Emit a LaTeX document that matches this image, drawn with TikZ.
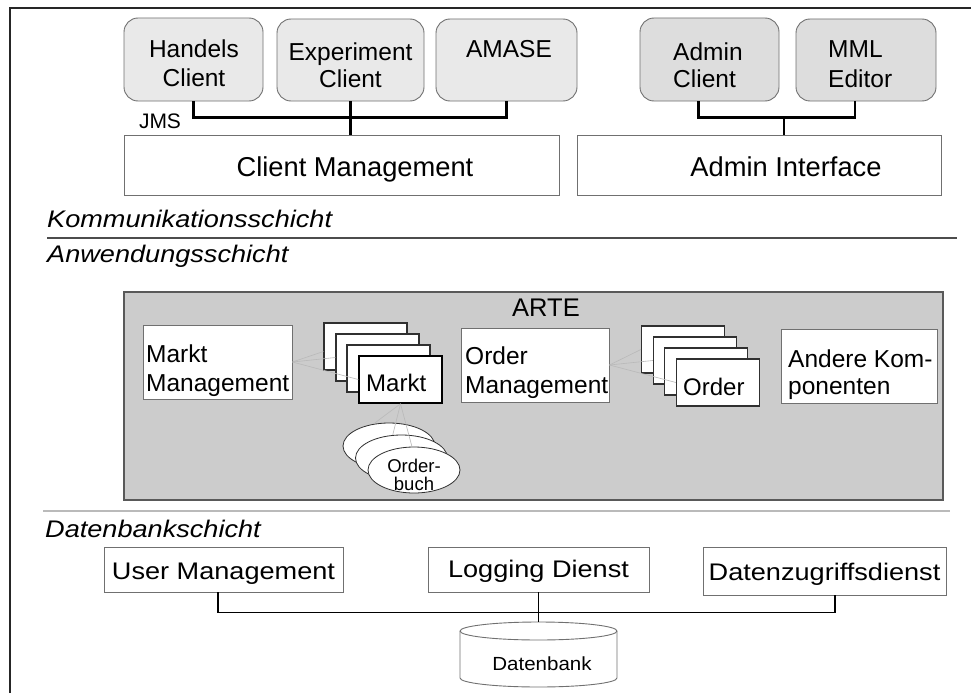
\documentclass[tikz,border=0pt]{standalone}
\usepackage{fontspec}
\setmainfont{Liberation Sans}
\usepackage{graphicx}
\usetikzlibrary{shapes.geometric}
\definecolor{cfill}{HTML}{E9E9E9}
\definecolor{afill}{HTML}{DDDDDD}
\definecolor{artefill}{HTML}{CCCCCC}
\definecolor{bord}{HTML}{707070}
\definecolor{stackbord}{HTML}{303030}
\newcommand{\hstretch}[1]{\scalebox{1.13}[1]{#1}}
\tikzset{
  fs/.style 2 args={font=\fontsize{#1}{#2}\selectfont},
  cbox/.style={draw=bord, line width=0.9pt, rounded corners=14pt, inner sep=0pt},
  wbox/.style={draw=bord, fill=white, line width=0.9pt, inner sep=0pt},
  stackbox/.style={draw=stackbord, fill=white, line width=1.2pt, inner sep=0pt, minimum width=83pt, minimum height=47pt},
  obuch/.style={ellipse, draw=stackbord, fill=white, line width=0.8pt, inner sep=0pt, minimum width=92pt, minimum height=46pt},
  lbl/.style={inner sep=0pt, anchor=base},
  lblw/.style={inner sep=0pt, anchor=base west, align=left},
  layer/.style={inner sep=0pt, anchor=base west, font=\fontsize{24}{28}\selectfont\itshape},
  conn/.style={line width=2.2pt, black},
  fan/.style={draw=gray!55, line width=0.6pt},
}
\begin{document}
\begin{tikzpicture}[x=1pt,y=-1pt]
\useasboundingbox (0,0) rectangle (971,693);
% frame
\draw[line width=2pt, black!85] (10,693) -- (10,8) -- (971,8);

% clients
\node[cbox, fill=cfill, minimum width=139pt, minimum height=83pt] (hc) at (193.5,59.5) {};
\node[cbox, fill=cfill, minimum width=147pt, minimum height=82pt] (ec) at (350.5,60) {};
\node[cbox, fill=cfill, minimum width=141pt, minimum height=82pt] (am) at (506.5,60) {};
\node[cbox, fill=afill, minimum width=139pt, minimum height=83pt] (ac) at (709.5,59.5) {};
\node[cbox, fill=afill, minimum width=140pt, minimum height=82pt] (mml) at (866,60) {};
\node[lbl, fs={24.5}{29}, align=center] at (194,86) {Handels\\Client};
\node[lbl, fs={24.5}{28}, align=center] at (350.5,88) {Experiment\\Client};
\node[lbl, fs={24.5}{28}] at (509,58) {AMASE};
\node[lblw, fs={24.5}{28}] at (673,88) {Admin\\Client};
\node[lblw, fs={24.5}{30}] at (828,87) {MML\\Editor};

\node[wbox, minimum width=435pt, minimum height=60pt] (cm) at (341.5,165) {};
\node[wbox, minimum width=364pt, minimum height=60pt] (ai) at (759,165) {};
\node[lbl, fs={27.3}{32}] at (355,176) {Client Management};
\node[lbl, fs={27.3}{32}] at (786,176) {Admin Interface};
\node[lbl, fs={21}{25}] at (160,128) {JMS};

\draw[conn] (hc.south) -- ++(0,16) -| (am.south);
\draw[conn] (ec.south) -- (ec.south |- cm.north);
\draw[conn] ([xshift=-11pt]ac.south) -- ++(0,16) -| ([xshift=-11pt]mml.south);
\draw[conn] ([xshift=25pt]ai.north) -- ++(0,-18);

% layers
\node[layer] at (47,227) {\hstretch{Kommunikationsschicht}};
\draw[line width=1.5pt, black!70] (47,238) -- (957,238);
\node[layer] at (47,262) {\hstretch{Anwendungsschicht}};

% ARTE
\node[draw=black!65, fill=artefill, line width=1.2pt, minimum width=819pt, minimum height=208pt, inner sep=0pt] (arte) at (533.5,396) {};
\node[lbl, fs={25.5}{30}] at (546,316) {ARTE};

\node[wbox, minimum width=149pt, minimum height=74pt] (mm) at (217.5,362) {};
\node[lblw, fs={24.5}{29}] at (146,391) {Markt\\Management};

\node[stackbox] (mk1) at (365.5,346.5) {};
\node[stackbox] (mk2) at (377.5,357.5) {};
\node[stackbox] (mk3) at (388.5,368.5) {};
\node[stackbox, draw=black, line width=1.5pt] (mk4) at (400.5,379.5) {};
\node[lblw, fs={24}{28}] at (366,391) {Markt};
\draw[fan] (mm.east) -- ([yshift=-5pt]mk1.west);
\draw[fan] (mm.east) -- (mk2.west);
\draw[fan] (mm.east) -- (mk4.west);

\node[obuch] (ob1) at (389,446) {};
\node[obuch] (ob2) at (401.5,458) {};
\node[obuch] (ob3) at (414,470) {};
\node[lbl, fs={18.5}{18}, align=center] at (414,490) {Order-\\buch};
\draw[fan] (mk4.south) -- (ob1.125);
\draw[fan] (mk4.south) -- (ob2.111);
\draw[fan] (mk4.south) -- (ob3.95);

\node[wbox, minimum width=148pt, minimum height=74pt] (om) at (535,365) {};
\node[lblw, fs={24.5}{29}] at (465,393) {Order\\Management};

\node[stackbox] (o1) at (683,349.5) {};
\node[stackbox] (o2) at (695,360.5) {};
\node[stackbox] (o3) at (706,371.5) {};
\node[stackbox] (o4) at (718,382.5) {};
\node[lblw, fs={24}{28}] at (683,395) {Order};
\draw[fan] (om.east) -- (o1.west);
\draw[fan] (om.east) -- (o2.west);
\draw[fan] (om.east) -- (o4.west);

\node[wbox, minimum width=156pt, minimum height=74pt] (ak) at (859,366) {};
\node[lblw, fs={24.5}{27}] at (788,394) {Andere Kom-\\ponenten};

% Datenbankschicht
\draw[line width=2.2pt, black!27] (43,511) -- (950,511);
\node[layer] at (45,537) {\hstretch{Datenbankschicht}};

\node[wbox, minimum width=239pt, minimum height=45pt] (um) at (223.5,569.5) {};
\node[wbox, minimum width=221pt, minimum height=45pt] (ld) at (538.5,569.5) {};
\node[wbox, minimum width=243pt, minimum height=48pt] (dz) at (824.5,571) {};
\node[lbl, fs={24}{28}] at (223.5,579) {\hstretch{User Management}};
\node[lbl, fs={24}{28}] at (538.5,577) {\hstretch{Logging Dienst}};
\node[lbl, fs={24}{28}] at (824.5,580) {\hstretch{Datenzugriffsdienst}};

% database cylinder
\draw[draw=bord, fill=white, line width=0.9pt]
  (460,631) -- (460,678) arc[start angle=180, end angle=360, x radius=78.5pt, y radius=9pt]
  -- (617,631) arc[start angle=0, end angle=180, x radius=78.5pt, y radius=9pt] -- cycle;
\draw[draw=bord, line width=0.9pt] (460,631) arc[start angle=180, end angle=360, x radius=78.5pt, y radius=9pt];
\coordinate (dbtop) at (538.5,622);
\node[lbl, fs={19}{22}] (db) at (542,670) {\scalebox{1.08}[1]{Datenbank}};

\draw[conn, line width=1.8pt] ([xshift=-5.5pt]um.south) -- ++(0,20) -| ([xshift=10.5pt]dz.south);
\draw[conn, line width=1.2pt] (ld.south) -- (dbtop);
\end{tikzpicture}
\end{document}
